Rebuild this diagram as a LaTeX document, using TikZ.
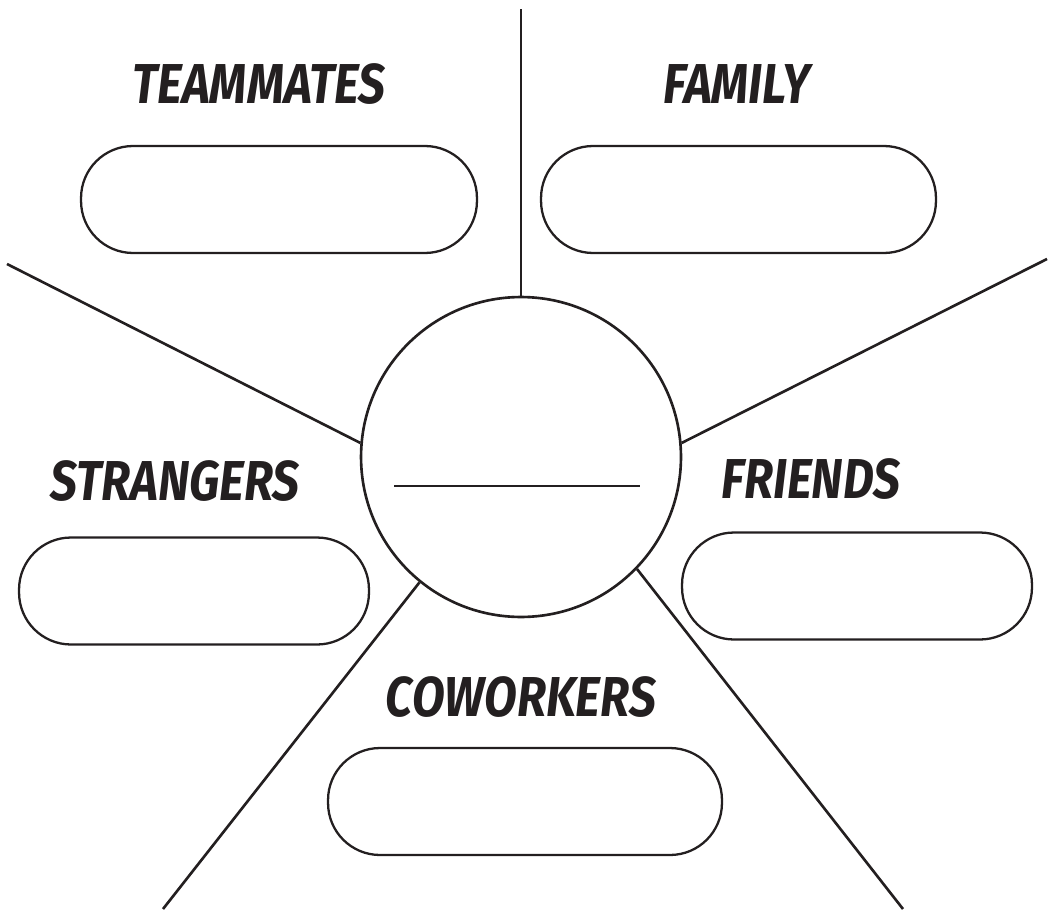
\documentclass[tikz,border=0pt]{standalone}
\usepackage{fontspec}
\newfontfamily\brushfont[FakeStretch=0.85]{Fira Sans}
\definecolor{ink}{HTML}{231F20}
\tikzset{
  pill/.style={draw=ink, line width=1.3pt, rounded corners=1.04cm,
    minimum height=2.14cm, inner sep=0pt},
  tag/.style={text=ink, font=\brushfont\bfseries\itshape\fontsize{32}{32}\selectfont},
  spoke/.style={draw=ink, line width=1.5pt}
}
\begin{document}
\begin{tikzpicture}[x=0.02cm,y=-0.02cm]
\useasboundingbox (0,0) rectangle (1054,909);
% hub in the middle
\node[draw=ink, line width=1.5pt, circle, minimum size=6.4cm, inner sep=0pt] (hub) at (521,457) {};
\draw[spoke] (394,486) -- (640,486);
% spokes out to the page edge
\coordinate (top) at (521,9);
\coordinate (uleft) at (7,264);
\coordinate (uright) at (1047,259);
\coordinate (lleft) at (163,909);
\coordinate (lright) at (903,909);
\draw[spoke] (hub.90) -- (top);
\draw[spoke] (hub.175) -- (uleft);
\draw[spoke] (hub.5) -- (uright);
\draw[spoke] (hub.231) -- (lleft);
\draw[spoke] (hub.316) -- (lright);
% labels and blank boxes
\node[tag] (teammates) at (259,84) {TEAMMATES};
\node[pill, minimum width=7.92cm] (teambox) at (279,199.5) {};
\node[tag] (family) at (737,84) {FAMILY};
\node[pill, minimum width=7.9cm] (familybox) at (738.5,199.5) {};
\node[tag] (strangers) at (175,481) {STRANGERS};
\node[pill, minimum width=7cm] (strangerbox) at (194,591) {};
\node[tag] (friends) at (811,479) {FRIENDS};
\node[pill, minimum width=7cm] (friendbox) at (857,586) {};
\node[tag] (coworkers) at (521,697) {COWORKERS};
\node[pill, minimum width=7.88cm] (coworkbox) at (525,801.5) {};
\end{tikzpicture}
\end{document}
